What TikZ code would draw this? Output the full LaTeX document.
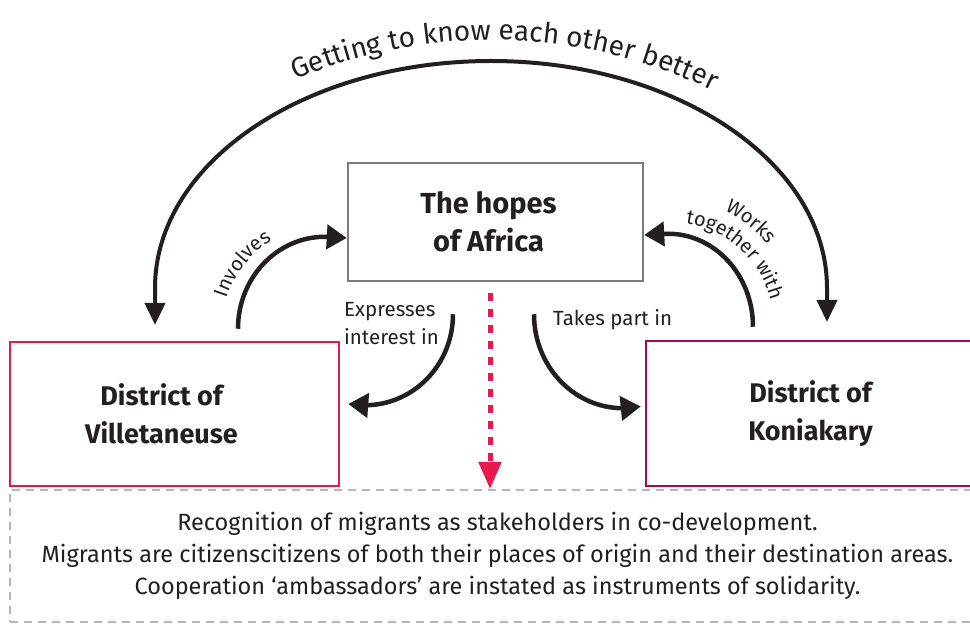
\documentclass[tikz,border=0pt]{standalone}
\usepackage{fontspec}
\setmainfont{Fira Sans}
\usetikzlibrary{arrows.meta,decorations.text,calc}
\definecolor{ink}{HTML}{231F20}
\definecolor{pinkc}{RGB}{232,25,80}
\definecolor{wine}{RGB}{168,8,75}
\definecolor{grayb}{RGB}{122,122,122}
\definecolor{dashg}{RGB}{182,182,182}
\begin{document}
\begin{tikzpicture}[x=1pt,y=1pt,
  box/.style={draw, line width=2.5pt, minimum width=#1, inner sep=0pt},
  boxtxt/.style={inner sep=0pt, align=center, font=\fontsize{27}{37.5}\selectfont\bfseries, text=ink},
  arr/.style={draw=ink, line width=4.5pt, -{Triangle[length=20pt,width=24pt]}},
  lbl/.style={font=\fontsize{20.5}{28}\selectfont, text=ink, inner sep=0pt},
]
\useasboundingbox (0,0) rectangle (970,624);
\fill[white] (0,0) rectangle (970,624);

% boxes
\node[box=295pt, draw=grayb, minimum height=118pt] (hopes) at (495.5,402) {};
\node[boxtxt, font=\fontsize{29}{37.5}\selectfont\bfseries] (hopestxt) at ([xshift=-7pt]hopes.center) {The hopes\\of Africa};
\node[box=329pt, draw=pinkc, minimum height=144pt] (vil) at (174.5,210) {};
\node[boxtxt] (viltxt) at ([xshift=-13pt]vil.center) {District of\\Villetaneuse};
\node[box=329pt, draw=wine, minimum height=145pt] (kon) at (810.5,210.5) {};
\node[boxtxt] (kontxt) at (kon.center) {District of\\Koniakary};
\node[draw=dashg, line width=2pt, dash pattern=on 8pt off 6pt, minimum width=975pt, minimum height=132pt,
  inner sep=0pt, align=center, font=\fontsize{23.5}{32}\selectfont, text=ink] (info) at (497.5,68)
  {Recognition of migrants as stakeholders in co-development.\\
   Migrants are citizenscitizens of both their places of origin and their destination areas.\\
   Cooperation ‘ambassadors’ are instated as instruments of solidarity.};

% big arc
\coordinate (bigL) at (155,299);
\coordinate (bigR) at (827,302);
\draw[draw=ink, line width=4pt, {Triangle[length=22pt,width=20pt]}-{Triangle[length=22pt,width=20pt]}]
  (bigL) -- (155,336) arc[start angle=180, end angle=0, x radius=336, y radius=227] -- (bigR);
\path[decorate, decoration={text along path, text align=center,
  text={|\fontsize{28}{32}\selectfont\color{ink}|Getting to know each other better}}]
  (167.4,465.9) arc[start angle=130, end angle=47, radius=505];

% involves
\draw[arr] ([xshift=63.5pt,yshift=12pt]vil.north) arc[start angle=180, end angle=90, x radius=87, y radius=92]
  -- ([yshift=-16pt]hopes.west);
\path[decorate, decoration={text along path, text align=center,
  text={|\fontsize{20}{24}\selectfont\color{ink}|Involves}}]
  (222,294) arc[start angle=180, end angle=104, radius=105];

% works together with
\draw[arr] ([xshift=-57.5pt,yshift=13pt]kon.north) arc[start angle=0, end angle=90, x radius=85, y radius=93]
  -- ([yshift=-13pt]hopes.east);
\path[decorate, decoration={text along path, text align=center,
  text={|\fontsize{20}{24}\selectfont\color{ink}|together with}}]
  (655.2,400.8) arc[start angle=98, end angle=-2, radius=105];
\path[decorate, decoration={text along path, text align=center,
  text={|\fontsize{20}{24}\selectfont\color{ink}|Works}}]
  (668,426) arc[start angle=90, end angle=14, radius=130];

% expresses interest in
\draw[arr] ([xshift=-42.5pt,yshift=-32pt]hopes.south) arc[start angle=0, end angle=-90, x radius=88, y radius=91]
  -- ([xshift=8pt,yshift=10pt]vil.east);
\node[lbl, anchor=base west] (exp1) at (344,307) {Expresses};
\node[lbl, anchor=base west] (exp2) at (344,279) {interest in};

% takes part in
\draw[arr] ([xshift=38.5pt,yshift=-32pt]hopes.south) arc[start angle=180, end angle=270, x radius=89, y radius=94]
  -- ([xshift=-4pt,yshift=7pt]kon.west);
\node[lbl, anchor=base west] (take) at (553,298) {Takes part in};

% pink dashed arrow
\draw[draw=pinkc, line width=5pt, dash pattern=on 8pt off 8pt,
  -{Triangle[length=27pt,width=22pt,fill=pinkc]}]
  ([xshift=-5.5pt,yshift=-11pt]hopes.south) -- ([xshift=-7.5pt]info.north);
\end{tikzpicture}
\end{document}
